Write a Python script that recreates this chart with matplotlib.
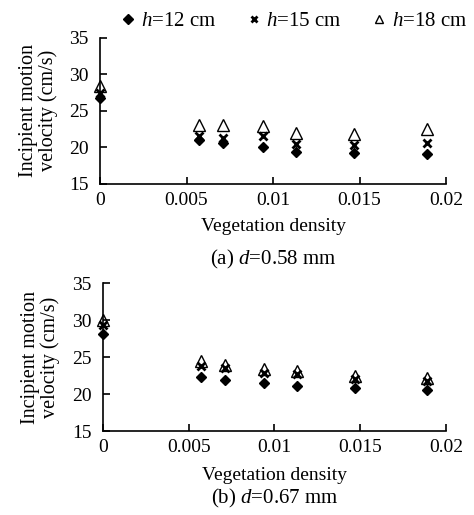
import matplotlib
matplotlib.use('Agg')
import matplotlib.pyplot as plt
from matplotlib.ticker import FuncFormatter
from matplotlib.lines import Line2D

plt.rcParams['font.family'] = ['Liberation Serif', 'DejaVu Serif']
plt.rcParams['mathtext.fontset'] = 'custom'
plt.rcParams['mathtext.it'] = 'Liberation Serif:italic'
plt.rcParams['mathtext.rm'] = 'Liberation Serif'

# Vegetation density values (x)
density = [0.0, 0.0057, 0.0071, 0.0094, 0.0113, 0.0147, 0.0189]

# (a) d = 0.58 mm
a_h12 = [26.7, 21.0, 20.6, 20.1, 19.3, 19.2, 19.1]
a_h15 = [27.5, 21.6, 21.3, 21.6, 20.4, 20.3, 20.6]
a_h18 = [28.4, 23.1, 23.1, 22.9, 21.9, 21.8, 22.5]

# (b) d = 0.67 mm
b_h12 = [28.2, 22.3, 21.9, 21.5, 21.1, 20.8, 20.5]
b_h15 = [29.3, 23.8, 23.5, 22.9, 22.7, 22.1, 21.8]
b_h18 = [30.0, 24.5, 23.9, 23.4, 23.1, 22.5, 22.2]

legend_labels = ['$h$=12 cm', '$h$=15 cm', '$h$=18 cm']
captions = ['(a) $d$=0.58 mm', '(b) $d$=0.67 mm']

fig = plt.figure(figsize=(4.74, 5.15), dpi=100)
ax_a = fig.add_axes([0.211, 0.643, 0.730, 0.2835])
ax_b = fig.add_axes([0.217, 0.163, 0.724, 0.287])

fmt = FuncFormatter(lambda v, p: '%g' % v)


def draw_panel(ax, h12, h15, h18, caption, ylab_x, xlab_y, cap_y):
    ax.plot(density, h12, linestyle='none', marker='D', markersize=5.5,
            color='black', clip_on=False)
    ax.plot(density, h15, linestyle='none', marker='x', markersize=6,
            markeredgewidth=2, color='black', clip_on=False)
    ax.plot(density, h18, linestyle='none', marker='^', markersize=8,
            markerfacecolor='none', markeredgecolor='black',
            markeredgewidth=1, clip_on=False)
    ax.set_xlim(0, 0.02)
    ax.set_ylim(15, 35)
    ax.set_xticks([0, 0.005, 0.01, 0.015, 0.02])
    ax.set_yticks([15, 20, 25, 30, 35])
    ax.xaxis.set_major_formatter(fmt)
    ax.spines['top'].set_visible(False)
    ax.spines['right'].set_visible(False)
    ax.spines['left'].set_linewidth(1.2)
    ax.spines['bottom'].set_linewidth(1.2)
    ax.tick_params(direction='in', length=5, width=1.2, labelsize=14)
    ax.tick_params(axis='y', pad=8)
    ax.tick_params(axis='x', pad=6)
    ax.set_ylabel('Incipient motion\nvelocity (cm/s)', fontsize=14.5,
                  linespacing=1.0)
    ax.yaxis.set_label_coords(ylab_x, 0.5)
    ax.set_xlabel('Vegetation density', fontsize=14)
    ax.xaxis.set_label_coords(0.5, xlab_y)
    ax.text(0.5, cap_y, caption, transform=ax.transAxes, ha='center',
            va='center', fontsize=15)


draw_panel(ax_a, a_h12, a_h15, a_h18, captions[0], -0.121, -0.233, -0.52)
draw_panel(ax_b, b_h12, b_h15, b_h18, captions[1], -0.125, -0.243, -0.453)

handles = [
    Line2D([], [], linestyle='none', marker='D', markersize=5, color='black'),
    Line2D([], [], linestyle='none', marker='x', markersize=5,
           markeredgewidth=2, color='black'),
    Line2D([], [], linestyle='none', marker='^', markersize=6,
           markerfacecolor='none', markeredgecolor='black'),
]
fig.legend(handles, legend_labels, loc='center', ncol=3,
           bbox_to_anchor=(0.619, 0.959), frameon=False, fontsize=15,
           handletextpad=0.2, columnspacing=1.4, handlelength=0.8)

fig.savefig('out.png', dpi=100)
